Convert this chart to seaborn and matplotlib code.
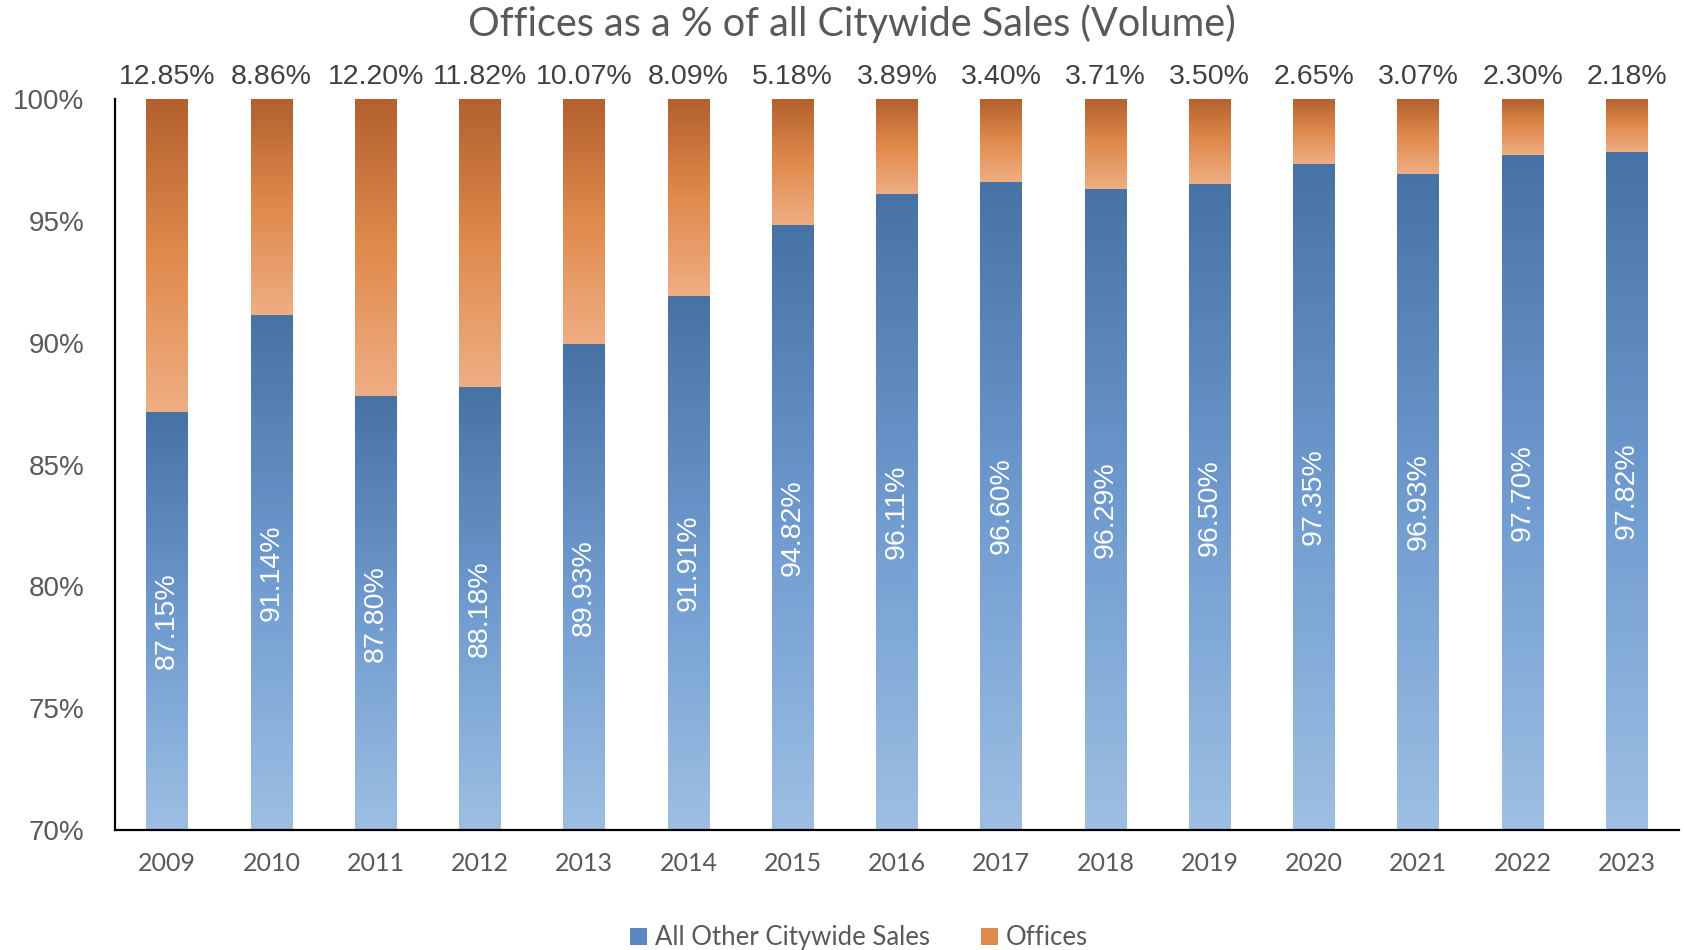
#!/usr/bin/env python3
"""
Offices share of citywide sales volume, stacked 100% bars with gradient fill.
"""
import numpy as np
import matplotlib
matplotlib.use("Agg")
import matplotlib.pyplot as plt
from matplotlib.colors import LinearSegmentedColormap
from matplotlib.patches import Patch
import seaborn as sns
import pandas as pd

years = ["2009", "2010", "2011", "2012", "2013", "2014", "2015", "2016",
         "2017", "2018", "2019", "2020", "2021", "2022", "2023"]
other_pct = [87.15, 91.14, 87.80, 88.18, 89.93, 91.91, 94.82, 96.11,
             96.60, 96.29, 96.50, 97.35, 96.93, 97.70, 97.82]
office_pct = [12.85, 8.86, 12.20, 11.82, 10.07, 8.09, 5.18, 3.89,
              3.40, 3.71, 3.50, 2.65, 3.07, 2.30, 2.18]
series_names = ["All Other Citywide Sales", "Offices"]
y_ticks = [70, 75, 80, 85, 90, 95, 100]

YMIN, YMAX = 70, 100

sns.set_theme(style="white")
plt.rcParams['font.family'] = ['Liberation Sans', 'DejaVu Sans']

df = pd.DataFrame({"year": years, "other": other_pct, "offices": office_pct})
df["total"] = df["other"] + df["offices"]

blue_cmap = LinearSegmentedColormap.from_list("blue", ["#9dbfe3", "#6f9bd0", "#4672a6"])
orange_cmap = LinearSegmentedColormap.from_list("orange", ["#efae82", "#e08a4c", "#b3602d"])

fig = plt.figure(figsize=(16.84, 9.5), dpi=100)
ax = fig.add_axes([0.0683, 0.1263, 0.9287, 0.7695])

# orange = full stack, blue drawn over it
sns.barplot(data=df, x="year", y="total", color="#e08a4c", width=0.4,
            saturation=1, ax=ax)
sns.barplot(data=df, x="year", y="other", color="#5b88c0", width=0.4,
            saturation=1, ax=ax)

n = len(years)
orange_bars = ax.patches[:n]
blue_bars = ax.patches[n:2 * n]
grad = np.linspace(0, 1, 256).reshape(-1, 1)

for ob, bb in zip(orange_bars, blue_bars):
    x0, w = bb.get_x(), bb.get_width()
    b_top = bb.get_y() + bb.get_height()
    o_top = ob.get_y() + ob.get_height()
    ax.imshow(grad, cmap=blue_cmap, origin="lower", aspect="auto",
              extent=[x0, x0 + w, YMIN, b_top], zorder=3,
              interpolation="bicubic")
    ax.imshow(grad, cmap=orange_cmap, origin="lower", aspect="auto",
              extent=[x0, x0 + w, b_top, o_top], zorder=3,
              interpolation="bicubic")

# data labels
for i, (o, f) in enumerate(zip(other_pct, office_pct)):
    ax.text(i, YMAX + 0.9, f"{f:.2f}%", ha="center", va="center",
            fontsize=20.5, color="#404040", clip_on=False, zorder=5)
    ax.text(i, (YMIN + o) / 2, f"{o:.2f}%", ha="center", va="center",
            rotation=90, fontsize=20.5, color="white", zorder=5)

ax.set_xlim(-0.5, n - 0.5)
ax.set_ylim(YMIN, YMAX)
ax.set_yticks(y_ticks)
ax.set_yticklabels([f"{t}%" for t in y_ticks], fontsize=20, color="#595959")
ax.tick_params(axis="y", length=0, pad=22)
ax.tick_params(axis="x", length=0, pad=16)
for lab in ax.get_xticklabels():
    lab.set_fontfamily(["Lato", "DejaVu Sans"])
    lab.set_fontsize(18)
    lab.set_color("#595959")
ax.set_xlabel("")
ax.set_ylabel("")

sns.despine(ax=ax)
for side in ["left", "bottom"]:
    ax.spines[side].set_color("black")
    ax.spines[side].set_linewidth(1.6)
ax.spines["left"].set_zorder(6)
ax.spines["bottom"].set_zorder(6)

fig.text(0.506, 0.975, "Offices as a % of all Citywide Sales (Volume)",
         ha="center", va="center", fontsize=28.5, color="#595959",
         family=["Lato", "DejaVu Sans"])

handles = [Patch(facecolor="#5b88c0", edgecolor="none"),
           Patch(facecolor="#e08a4c", edgecolor="none")]
fig.legend(handles, series_names, loc="center", bbox_to_anchor=(0.51, 0.013),
           ncol=2, frameon=False, handlelength=0.65, handleheight=0.65,
           handletextpad=0.3, columnspacing=2.0,
           prop={"family": ["Lato", "DejaVu Sans"], "size": 18.5},
           labelcolor="#595959")

fig.savefig("out.png", dpi=100)
plt.close(fig)
